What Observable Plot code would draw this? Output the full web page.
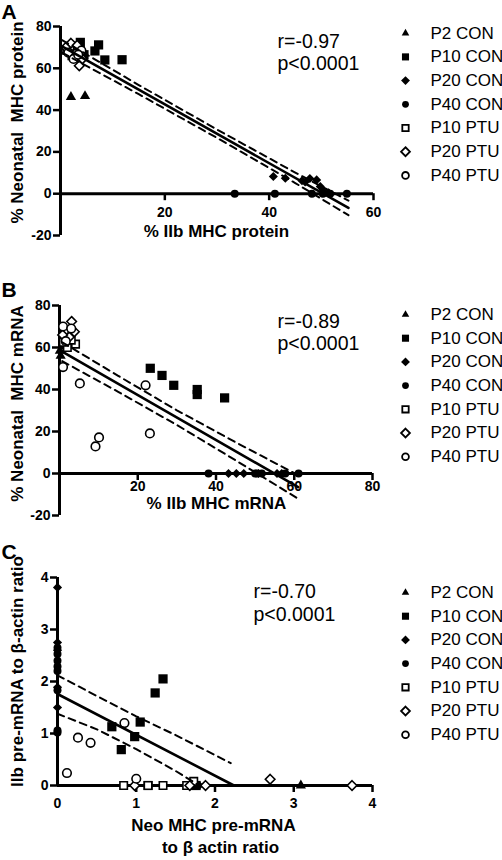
<!DOCTYPE html>
<html><head><meta charset="utf-8">
<script src="https://cdn.jsdelivr.net/npm/d3@7"></script>
<script src="https://cdn.jsdelivr.net/npm/@observablehq/plot@0.6"></script>
<style>
body{margin:0;background:#fff;}
#wrap{position:relative;width:502px;height:860px;overflow:hidden;background:#fff;}
#wrap > div{position:absolute;left:0;}
</style></head><body><div id="wrap"></div>
<script>
// ---- legend / groups ----
const groups = ["P2 CON","P10 CON","P20 CON","P40 CON","P10 PTU","P20 PTU","P40 PTU"];
const symbols = ["triangle","square","diamond2","circle","square","diamond2","circle"];
const filled = [true,true,true,true,false,false,false];

// ---- Panel A: % IIb MHC protein vs % Neonatal MHC protein ----
const proteinPoints = [
  ["P2 CON",2.0,46.3],["P2 CON",4.7,46.7],
  ["P10 CON",3.8,72.4],["P10 CON",6.6,68.3],["P10 CON",7.3,71.2],["P10 CON",8.5,64.0],["P10 CON",11.8,64.1],["P10 CON",3.6,69.0],["P10 CON",4.5,66.5],
  ["P20 CON",40.8,8.2],["P20 CON",43.1,7.4],["P20 CON",46.3,6.2],["P20 CON",46.9,5.6],["P20 CON",47.8,7.3],["P20 CON",49.1,6.6],["P20 CON",49.8,3.4],["P20 CON",50.4,1.2],["P20 CON",51.4,0.4],
  ["P40 CON",33.4,0],["P40 CON",41.1,0],["P40 CON",48.2,0],["P40 CON",50.3,0],["P40 CON",51.7,0],["P40 CON",54.9,0],
  ["P10 PTU",1.2,68.5],["P10 PTU",2.2,66.0],["P10 PTU",3.0,69.5],["P10 PTU",1.8,70.5],
  ["P20 PTU",2.0,72.0],["P20 PTU",3.6,61.2],["P20 PTU",1.0,70.0],["P20 PTU",2.8,67.0],["P20 PTU",4.2,64.5],["P20 PTU",3.2,71.0],
  ["P40 PTU",1.5,67.5],["P40 PTU",2.5,64.5],["P40 PTU",4.0,68.5],["P40 PTU",3.4,66.5]
];
const proteinFit = [[0.3,70.5],[55.2,-6.8]];
const proteinUpper = [[0.3,73.5],[15,52.0],[30,30.7],[45,10.1],[55.2,-3.3]];
const proteinLower = [[0.3,67.5],[15,47.6],[30,26.7],[45,5.1],[55.2,-10.3]];
const proteinXTicks = [0,20,40,60];
const proteinYTicks = [-20,0,20,40,60,80];
const proteinStats = ["r=-0.97","p<0.0001"];

// ---- Panel B: % IIb MHC mRNA vs % Neonatal MHC mRNA ----
const mrnaPoints = [
  ["P2 CON",0.1,58.4],["P2 CON",0.3,56.0],["P2 CON",0.8,60.5],
  ["P10 CON",23.2,50.1],["P10 CON",26.2,46.7],["P10 CON",29.2,42.0],["P10 CON",35.2,40.0],["P10 CON",35.2,37.6],["P10 CON",42.2,36.0],
  ["P20 CON",43.2,0],["P20 CON",45.2,0],["P20 CON",47.1,0],["P20 CON",50.9,0],["P20 CON",55.6,0],["P20 CON",56.8,0],
  ["P40 CON",38.1,0],["P40 CON",50.0,0],["P40 CON",51.7,0],["P40 CON",57.7,0],["P40 CON",61.1,0],["P40 CON",50.5,0],
  ["P10 PTU",4.1,61.6],["P10 PTU",2.0,60.0],["P10 PTU",1.0,62.5],["P10 PTU",3.0,63.5],
  ["P20 PTU",3.1,72.4],["P20 PTU",1.5,68.0],["P20 PTU",2.5,65.0],["P20 PTU",3.8,67.5],["P20 PTU",0.8,66.0],
  ["P40 PTU",0.9,50.7],["P40 PTU",5.2,42.9],["P40 PTU",22.0,42.0],["P40 PTU",9.2,12.9],["P40 PTU",10.1,17.2],["P40 PTU",23.1,19.1],["P40 PTU",0.9,70.0],["P40 PTU",1.6,63.0],["P40 PTU",3.0,69.0]
];
const mrnaFit = [[0.7,58.0],[61,-6.5]];
const mrnaUpper = [[0.7,62.5],[15,46.5],[30,30.1],[45,14.9],[61,-0.8]];
const mrnaLower = [[0.7,53.5],[15,38.9],[30,23.1],[45,6.3],[61,-12.0]];
const mrnaXTicks = [0,20,40,60,80];
const mrnaYTicks = [-20,0,20,40,60,80];
const mrnaStats = ["r=-0.89","p<0.0001"];

// ---- Panel C: Neo MHC pre-mRNA vs IIb pre-mRNA (to beta actin) ----
const prePoints = [
  ["P2 CON",3.09,0],
  ["P10 CON",1.34,2.05],["P10 CON",1.24,1.78],["P10 CON",1.05,1.22],["P10 CON",0.98,0.94],["P10 CON",0.69,1.13],["P10 CON",0.81,0.69],["P10 CON",1.15,0],["P10 CON",1.76,0],
  ["P20 CON",0,3.81],["P20 CON",0,2.75],["P20 CON",0,2.6],["P20 CON",0,1.89],["P20 CON",0,1.5],["P20 CON",1.8,0],["P20 CON",1.7,0],
  ["P40 CON",0,2.65],["P40 CON",0,2.53],["P40 CON",0,2.4],["P40 CON",0,2.29],["P40 CON",0,2.2],["P40 CON",0,1.83],["P40 CON",0,1.06],["P40 CON",0,1.02],
  ["P10 PTU",0.84,0],["P10 PTU",1.15,0],["P10 PTU",1.34,0],["P10 PTU",1.64,0],["P10 PTU",1.73,0.08],
  ["P20 PTU",0.98,0],["P20 PTU",1.88,0],["P20 PTU",2.70,0.12],["P20 PTU",3.74,0],["P20 PTU",1.68,0],
  ["P40 PTU",0.85,1.2],["P40 PTU",0.26,0.92],["P40 PTU",0.42,0.82],["P40 PTU",0.12,0.24],["P40 PTU",1.0,0.13]
];
const preFit = [[0,1.76],[2.24,0]];
const preUpper = [[0,2.12],[0.5,1.72],[1,1.33],[1.5,0.97],[2.2,0.43]];
const preLower = [[0,1.38],[0.5,1.08],[1,0.7],[1.5,0.28],[1.8,0]];
const preXTicks = [0,1,2,3,4];
const preYTicks = [0,1,2,3,4];
const preStats = ["r=-0.70","p<0.0001"];

// ---- styling ----
const FONT = "'Liberation Sans', Arial, Helvetica, sans-serif";
const pointR = [3.8,5.2,4.1,4.0,4.2,4.3,4.3];
const legendR = [2.8,4.0,4.0,3.4,3.6,4.0,3.4];

function makePanel(cfg) {
  const W = 502, T = cfg.top;
  const mt = cfg.plotTop - T, mb = T + cfg.height - cfg.plotBottom;
  const ml = cfg.xLeft, mr = W - cfg.xRight;
  const at = (px, py) => ({frameAnchor: "top-left", dx: px - ml, dy: py - T - mt});
  const xt = cfg.xTicks, yt = cfg.yTicks;
  const marks = [];
  // axes
  marks.push(Plot.ruleX([xt[0]], {y1: yt[0], y2: yt[yt.length - 1], strokeWidth: 3}));
  marks.push(Plot.ruleY([0], {x1: xt[0], x2: xt[xt.length - 1], strokeWidth: 3}));
  marks.push(Plot.axisY(yt, {anchor: "left", tickSize: 7, tickPadding: 2, fontSize: 14, fontWeight: "bold", strokeWidth: 2.5, label: null, tickFormat: d => String(d)}));
  marks.push(Plot.ruleX(xt.slice(1), {x: d => d, y1: 0, y2: 0, insetBottom: -7, strokeWidth: 2.5}));
  marks.push(Plot.text(cfg.xLabelTicks, {x: d => d, y: 0, text: d => String(d), dy: cfg.xLabelDy, lineAnchor: "middle", fontSize: 14, fontWeight: "bold"}));
  // points
  groups.forEach((g, i) => {
    const rows = cfg.points.filter(r => r[0] === g);
    marks.push(Plot.dot(rows, {x: r => r[1], y: r => r[2], symbol: symbols[i], r: pointR[i],
      fill: filled[i] ? "black" : "white", stroke: filled[i] ? "none" : "black", strokeWidth: 1.6}));
  });
  // regression + CI
  marks.push(Plot.line(cfg.fit, {x: d => d[0], y: d => d[1], strokeWidth: 2.6}));
  marks.push(Plot.line(cfg.upper, {x: d => d[0], y: d => d[1], strokeWidth: 2, strokeDasharray: "7,5"}));
  marks.push(Plot.line(cfg.lower, {x: d => d[0], y: d => d[1], strokeWidth: 2, strokeDasharray: "7,5"}));
  // stats text
  cfg.stats.forEach((s, i) => {
    marks.push(Plot.text([s], {text: d => d, ...at(cfg.statsX, cfg.statsY[i]), lineAnchor: "bottom", textAnchor: "start", fontSize: 19.5}));
  });
  // panel letter
  marks.push(Plot.text([cfg.letter], {text: d => d, ...at(1, cfg.letterY), lineAnchor: "bottom", textAnchor: "start", fontSize: 21, fontWeight: "bold"}));
  // axis titles
  marks.push(Plot.text([cfg.yTitle], {text: d => d, ...at(17, cfg.yTitleY), rotate: -90, lineAnchor: "middle", textAnchor: "middle", fontSize: 17, fontWeight: "bold"}));
  cfg.xTitle.forEach((s, i) => {
    marks.push(Plot.text([s], {text: d => d, ...at(cfg.xTitleX[i], cfg.xTitleY[i]), lineAnchor: "bottom", textAnchor: "middle", fontSize: 17, fontWeight: "bold"}));
  });
  // legend
  groups.forEach((g, i) => {
    const yy = cfg.legendY + i * 23.7;
    marks.push(Plot.dot([g], {...at(405, yy), symbol: symbols[i], r: legendR[i],
      fill: filled[i] ? "black" : "white", stroke: filled[i] ? "none" : "black", strokeWidth: 1.8}));
    marks.push(Plot.text([g], {text: d => d, ...at(430, yy), lineAnchor: "middle", textAnchor: "start", fontSize: 17}));
  });
  const svg = Plot.plot({
    width: W, height: cfg.height,
    marginTop: mt, marginBottom: mb, marginLeft: ml, marginRight: mr,
    x: {domain: [xt[0], xt[xt.length - 1]], axis: null},
    y: {domain: [yt[0], yt[yt.length - 1]]},
    style: {fontFamily: FONT, background: "white", overflow: "visible", color: "black"},
    marks
  });
  const div = document.createElement("div");
  div.style.top = T + "px";
  div.appendChild(svg);
  document.getElementById("wrap").appendChild(div);
}

makePanel({top: 0, height: 250, plotTop: 26, plotBottom: 235, xLeft: 60, xRight: 373,
  xTicks: proteinXTicks, yTicks: proteinYTicks, xLabelTicks: proteinXTicks.slice(1), xLabelDy: 19,
  points: proteinPoints, fit: proteinFit, upper: proteinUpper, lower: proteinLower,
  stats: proteinStats, statsX: 277, statsY: [47, 69.5], letter: "A", letterY: 18,
  yTitle: "% Neonatal\u00a0 MHC protein", yTitleY: 122,
  xTitle: ["% IIb MHC protein"], xTitleX: [216], xTitleY: [236], legendY: 32.7});

makePanel({top: 280, height: 240, plotTop: 305, plotBottom: 515, xLeft: 59, xRight: 372,
  xTicks: mrnaXTicks, yTicks: mrnaYTicks, xLabelTicks: mrnaXTicks.slice(1), xLabelDy: 13,
  points: mrnaPoints, fit: mrnaFit, upper: mrnaUpper, lower: mrnaLower,
  stats: mrnaStats, statsX: 277, statsY: [327, 349], letter: "B", letterY: 296,
  yTitle: "% Neonatal\u00a0 MHC mRNA", yTitleY: 403,
  xTitle: ["% IIb MHC mRNA"], xTitleX: [216], xTitleY: [508], legendY: 314});

makePanel({top: 540, height: 320, plotTop: 577, plotBottom: 785, xLeft: 57, xRight: 372,
  xTicks: preXTicks, yTicks: preYTicks, xLabelTicks: preXTicks, xLabelDy: 18,
  points: prePoints, fit: preFit, upper: preUpper, lower: preLower,
  stats: preStats, statsX: 253, statsY: [597, 620], letter: "C", letterY: 558,
  yTitle: "IIb pre-mRNA to \u03b2-actin ratio", yTitleY: 671,
  xTitle: ["Neo MHC pre-mRNA", "to \u03b2 actin ratio"], xTitleX: [213, 220], xTitleY: [830, 852], legendY: 592});
</script></body></html>
